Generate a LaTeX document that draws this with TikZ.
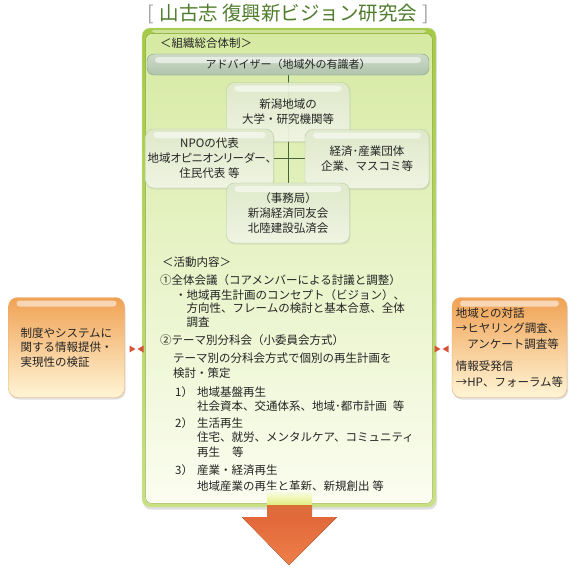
\documentclass[tikz,border=0pt]{standalone}
\usepackage{fontspec}
\setmainfont{Noto Sans CJK JP}
\newfontfamily\jpprop[RawFeature=+palt]{Noto Sans CJK JP}
\usepackage{tikz}
\usetikzlibrary{positioning,shadows}
\definecolor{leaf}{RGB}{164,202,70}
\definecolor{leaflt}{RGB}{200,224,130}
\definecolor{leafin}{RGB}{214,234,162}
\definecolor{leafpale}{RGB}{251,253,240}
\definecolor{titlegreen}{RGB}{78,124,44}
\definecolor{sage}{RGB}{206,218,200}
\definecolor{sagelo}{RGB}{176,196,172}
\definecolor{sagedk}{RGB}{132,156,128}
\definecolor{boxtop}{RGB}{224,234,204}
\definecolor{boxbot}{RGB}{242,246,230}
\definecolor{boxline}{RGB}{184,198,166}
\definecolor{wire}{RGB}{70,100,60}
\definecolor{peach}{RGB}{240,162,84}
\definecolor{peachlt}{RGB}{255,245,214}
\definecolor{peachdk}{RGB}{228,150,70}
\definecolor{flame}{RGB}{226,104,58}
\definecolor{flamelt}{RGB}{238,128,74}
\definecolor{ink}{RGB}{36,36,36}
\definecolor{markred}{RGB}{214,84,58}
\newcommand{\txt}{\fontsize{11.5}{14.5}\selectfont}
\newcommand{\num}[1]{\makebox[22pt][l]{#1}}
\pgfdeclarelayer{bg}
\pgfdeclarelayer{wires}
\pgfsetlayers{bg,wires,main}

\begin{document}
\begin{tikzpicture}[x=1pt,y=-1pt,
    every node/.style={text=ink},
    gloss/.style={path picture={\fill[white, opacity=0.55, rounded corners=3pt]
      ([xshift=8pt,yshift=-3pt]path picture bounding box.north west) rectangle
      ([xshift=-8pt,yshift=-9pt]path picture bounding box.north east);}},
    orgbox/.style={gloss, rounded corners=8pt, draw=boxline, top color=boxtop,
      bottom color=boxbot, fill opacity=0.93, text opacity=1, align=center,
      font=\fontsize{11.5}{15}\selectfont, minimum width=123pt, minimum height=59pt,
      inner sep=2pt, drop shadow={opacity=0.15, shadow xshift=1pt, shadow yshift=-1.5pt}},
    advbar/.style={gloss, rounded corners=7pt, draw=sagedk, top color=sage,
      bottom color=sagelo, minimum width=282pt, minimum height=21pt, inner sep=0pt,
      font=\fontsize{11}{13}\selectfont},
    sidebox/.style={gloss, rounded corners=9pt, draw=peachdk!80, top color=peach,
      bottom color=peachlt, minimum width=116pt, minimum height=100pt, align=left,
      font=\txt, drop shadow={opacity=0.25, shadow xshift=1pt, shadow yshift=-2pt}},
    lines/.style={anchor=west, align=left, inner sep=0pt, font=\txt},
    wirestyle/.style={draw=wire, line width=0.7pt}]
  \useasboundingbox (0,0) rectangle (578,570);

  % title
  \node[font=\fontsize{19.5}{22}\selectfont, text=titlegreen] (title) at (288.5,14)
    {{\color{gray!75}[}\hspace{5pt}山古志 復興新ビジョン研究会\hspace{5pt}{\color{gray!75}]}};

  % green panel
  \begin{pgfonlayer}{bg}
    \node[rounded corners=8pt, draw=leaf!90!black!40, top color=leaf, bottom color=leaflt,
      minimum width=294pt, minimum height=479pt,
      drop shadow={opacity=0.25, shadow xshift=1pt, shadow yshift=-2.5pt}] (panel) at (289,267.5) {};
    \fill[rounded corners=6pt, top color=leafin, bottom color=leafpale]
      ([shift={(4,6)}]panel.north west) rectangle ([shift={(-4,-4)}]panel.south east);
    \fill[white, opacity=0.45, rounded corners=3pt]
      ([shift={(10,2)}]panel.north west) rectangle ([shift={(-10,5)}]panel.north east);
  \end{pgfonlayer}

  % organisation
  \node[lines] (orgh) at (160,43) {＜組織総合体制＞};
  \node[advbar] (adv) at (288,64.5) {アドバイザー（地域外の有識者）};
  \node[orgbox] (univ) at (288,112) {新潟地域の\\大学・研究機関等};
  \node[orgbox, minimum width=125pt] (npo) at (209.5,158.5)
    {NPOの代表\\{\jpprop 地域オピニオンリーダー、}\\住民代表 等};
  \node[orgbox, minimum width=124pt] (econ) at (367,159) {経済･産業団体\\企業、マスコミ等};
  \node[orgbox, minimum height=60pt] (sec) at (288,213) {（事務局）\\新潟経済同友会\\北陸建設弘済会};
  \begin{pgfonlayer}{wires}
    \draw[wirestyle] (adv.south) -- (adv.south |- sec.north);
    \draw[wirestyle] (npo.east) -- (npo.east -| econ.west);
  \end{pgfonlayer}

  % activities
  \node[lines] (acth) at (162,262) {＜活動内容＞};
  \node[lines] (plen) at (160,280) {①全体会議（コアメンバーによる討議と調整）};
  \node[lines, font=\fontsize{11.5}{13.5}\selectfont] (plena) at (175,308.5)
    {・地域再生計画のコンセプト（ビジョン）、\\
     \hspace*{11.5pt}方向性、フレームの検討と基本合意、全体\\
     \hspace*{11.5pt}調査};
  \node[lines] (theme) at (160,340) {②テーマ別分科会（小委員会方式）};
  \node[lines, font=\fontsize{11.5}{15}\selectfont] (themea) at (173,365.5)
    {テーマ別の分科会方式で個別の再生計画を\\検討・策定};
  \node[lines, font=\fontsize{11.5}{14}\selectfont] (t1) at (175,399)
    {\num{1）}地域基盤再生\\\num{}社会資本、交通体系、地域･都市計画\hspace{6pt}等};
  \node[lines] (t2) at (175,437.5)
    {\num{2）}生活再生\\\num{}住宅、就労、メンタルケア、コミュニティ\\\num{}再生\hspace{12pt}等};
  \node[lines, font=\fontsize{11.5}{16}\selectfont] (t3) at (175,478)
    {\num{3）}産業・経済再生\\\num{}地域産業の再生と革新、新規創出 等};

  % outcome arrow
  \fill[top color=leafpale, bottom color=yellow!25!leafin]
    ([shift={(-22,-17)}]panel.south) rectangle ([shift={(23,-2)}]panel.south);
  \fill[top color=flame!75!brown, bottom color=flame]
    ([shift={(-22,-2)}]panel.south) rectangle ([shift={(23,10.5)}]panel.south);
  \fill[top color=flame, bottom color=flamelt]
    ([shift={(-47,10)}]panel.south) -- ([shift={(48,10)}]panel.south)
    -- ([shift={(0,58)}]panel.south) -- cycle;

  % side boxes
  \node[sidebox] (info) at (66.5,347.5) {制度やシステムに\\関する情報提供・\\実現性の検証};
  \node[sidebox, minimum width=115pt, font=\fontsize{11.5}{15.5}\selectfont] (talk) at (509.5,347.5)
    {地域との対話\\→ヒヤリング調査、\\\hspace*{11.5pt}アンケート調査等\\[7pt]情報受発信\\→HP、フォーラム等};

  % link marks
  \coordinate (ml) at (136.5,349);
  \coordinate (mr) at (441.5,349);
  \foreach \m in {ml,mr} {
    \fill[markred] ([xshift=-1pt]\m) -- ++(-6,-3.5) -- ++(0,7) -- cycle;
    \fill[markred] ([xshift=1pt]\m) -- ++(6,-3.5) -- ++(0,7) -- cycle;
  }
\end{tikzpicture}
\end{document}
